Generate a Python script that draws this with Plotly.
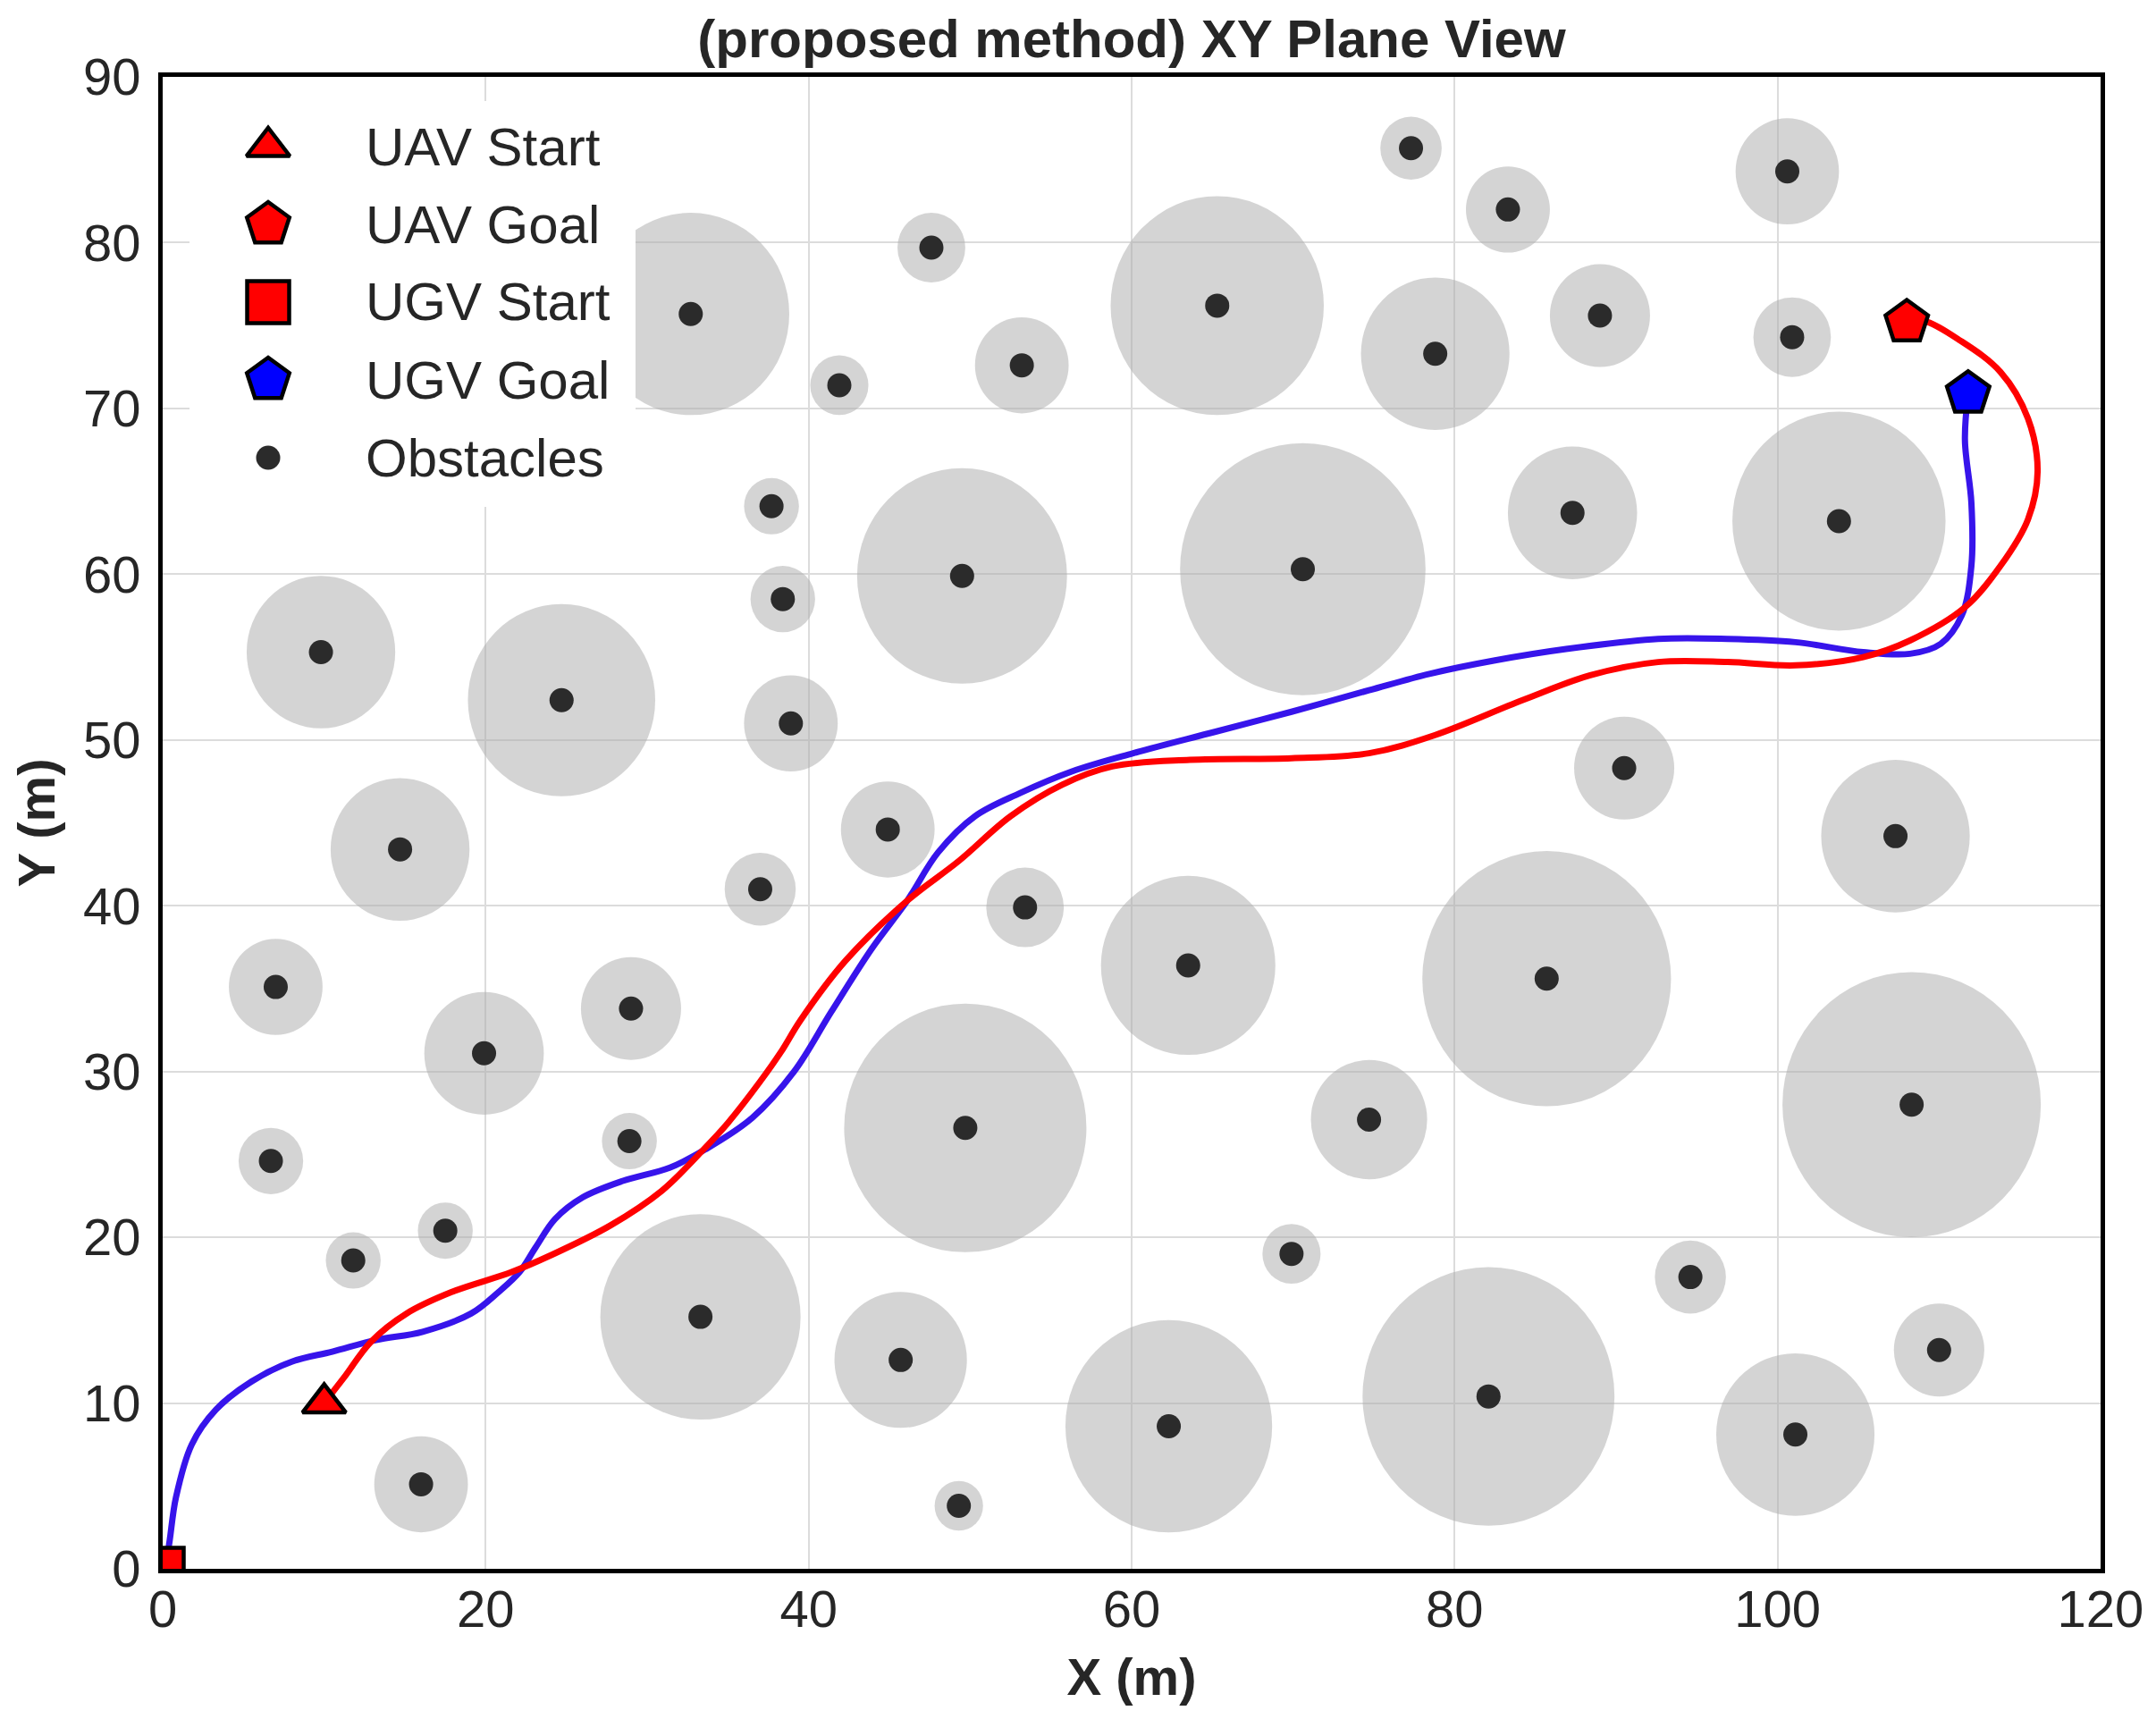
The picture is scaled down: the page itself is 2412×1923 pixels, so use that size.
import plotly.graph_objects as go

# ---------------- data ----------------
obs_x = [77.3, 100.6, 83.3, 47.6, 32.7, 65.3, 78.8, 89.0, 100.9, 53.2, 41.9, 37.7,
         49.5, 70.6, 87.3, 103.8, 38.4, 9.8, 24.7, 38.9, 90.5, 14.7, 44.9, 107.3,
         37.0, 53.4, 63.5, 85.7, 7.0, 29.0, 19.9, 74.7, 108.3, 49.7, 6.7, 28.9,
         17.5, 11.8, 69.9, 94.6, 33.3, 45.7, 110.0, 62.3, 82.1, 101.1, 16.0, 49.3]
obs_y = [85.7, 84.3, 82.0, 79.7, 75.7, 76.2, 73.3, 75.6, 74.3, 72.6, 71.4, 64.1,
         59.9, 60.3, 63.7, 63.2, 58.5, 55.3, 52.4, 51.0, 48.3, 43.4, 44.6, 44.2,
         41.0, 39.9, 36.4, 35.6, 35.1, 33.8, 31.1, 27.1, 28.0, 26.6, 24.6, 25.8,
         20.4, 18.6, 19.0, 17.6, 15.2, 12.6, 13.2, 8.6, 10.4, 8.1, 5.1, 3.8]
obs_r = [1.9, 3.2, 2.6, 2.1, 6.1, 6.6, 4.6, 3.1, 2.4, 2.9, 1.8, 1.7,
         6.5, 7.6, 4.0, 6.6, 2.0, 4.6, 5.8, 2.9, 3.1, 4.3, 2.9, 4.6,
         2.2, 2.4, 5.4, 7.7, 2.9, 3.1, 3.7, 3.6, 8.0, 7.5, 2.0, 1.7,
         1.7, 1.7, 1.8, 2.2, 6.2, 4.1, 2.8, 6.4, 7.8, 4.9, 2.9, 1.5]

ugv_path_x = [0.0, 0.33, 0.82, 1.8, 3.3, 5.5, 8.0, 10.5, 13.2, 16.1, 19.1, 20.8, 22.1,
              23.1, 24.3, 26.0, 28.5, 31.4, 33.6, 36.5, 39.1, 41.4, 43.9, 46.1, 48.0,
              50.3, 53.1, 56.3, 60.1, 65.2, 69.9, 74.7, 78.5, 82.5, 87.0, 92.6, 96.9,
              101.1, 105.3, 108.2, 110.1, 111.4, 112.0, 112.0, 111.6, 111.8]
ugv_path_y = [0.0, 1.1, 4.3, 7.5, 9.6, 11.3, 12.5, 13.1, 13.8, 14.3, 15.4, 16.7, 17.9,
              19.4, 21.1, 22.4, 23.4, 24.2, 25.3, 27.2, 30.0, 33.6, 37.4, 40.3, 43.2,
              45.4, 46.8, 48.1, 49.2, 50.5, 51.7, 53.0, 54.0, 54.8, 55.5, 56.1, 56.1,
              55.9, 55.3, 55.2, 55.8, 57.5, 60.5, 64.3, 68.1, 70.9]

uav_path_x = [10.0, 11.2, 12.9, 15.1, 17.9, 21.6, 24.0, 27.7, 30.9, 33.4, 35.0, 37.0,
              38.3, 39.5, 42.3, 46.1, 49.3, 52.5, 55.7, 58.8, 63.6, 69.9, 74.7, 78.8,
              84.2, 88.4, 92.6, 96.9, 101.1, 105.3, 108.2, 111.6, 113.8, 115.5, 116.1,
              115.5, 113.8, 111.3, 109.0, 108.0]
uav_path_y = [10.0, 11.5, 13.7, 15.4, 16.7, 17.9, 18.9, 20.7, 22.8, 25.2, 26.9, 29.4,
              31.2, 33.1, 36.7, 40.3, 42.7, 45.4, 47.3, 48.4, 48.8, 48.9, 49.2, 50.3,
              52.4, 53.9, 54.7, 54.7, 54.5, 55.0, 56.0, 58.0, 60.5, 63.3, 66.2,
              69.4, 72.2, 74.1, 75.3, 75.2]

uav_start = (10.0, 10.0)
uav_goal = (108.0, 75.2)
ugv_start = (0.0, 0.0)
ugv_goal = (111.8, 70.9)

x_ticks = [0, 20, 40, 60, 80, 100, 120]
y_ticks = [0, 10, 20, 30, 40, 50, 60, 70, 80, 90]

legend_labels = ["UAV Start", "UAV Goal", "UGV Start", "UGV Goal", "Obstacles"]

# ---------------- styles ----------------
FONT = "Liberation Sans, Arial, Helvetica, sans-serif"
TXT = "#262626"
RED = "#ff0000"
BLUE_LINE = "#3714eb"
BLUE_FILL = "#0000ff"
DOT = "#2b2b2b"
CIRCLE_FILL = "rgba(169,169,169,0.5)"
EDGE = dict(color="black", width=4.5)

legend_styles = [
    dict(symbol="triangle-up", size=42, color=RED, line=EDGE),
    dict(symbol="pentagon", size=50, color=RED, line=EDGE),
    dict(symbol="square", size=47, color=RED, line=EDGE),
    dict(symbol="pentagon", size=50, color=BLUE_FILL, line=EDGE),
    dict(symbol="circle", size=27, color=DOT, line=dict(width=0)),
]

# page body has an 8 px default margin; target plot box in page pixels
OFF = 8
W, H = 2412 - 2 * OFF, 1923 - 2 * OFF
PLOT_L, PLOT_R, PLOT_T, PLOT_B = 182, 2350, 86, 1755
L = PLOT_L - OFF
T = PLOT_T - OFF
R = OFF + W - PLOT_R
B = OFF + H - PLOT_B
PW, PH = PLOT_R - PLOT_L, PLOT_B - PLOT_T

def fx(px):
    return (px - PLOT_L) / PW

def fy(py):
    return (PLOT_B - py) / PH

fig = go.Figure()

# obstacle safety circles
for cx, cy, r in zip(obs_x, obs_y, obs_r):
    fig.add_shape(type="circle", xref="x", yref="y",
                  x0=cx - r, x1=cx + r, y0=cy - r, y1=cy + r,
                  fillcolor=CIRCLE_FILL, line=dict(width=0), layer="between")

# obstacle centers
fig.add_trace(go.Scatter(x=obs_x, y=obs_y, mode="markers",
                         marker=dict(size=27, color=DOT), hoverinfo="skip"))

# paths
fig.add_trace(go.Scatter(x=ugv_path_x, y=ugv_path_y, mode="lines",
                         line=dict(color=BLUE_LINE, width=7, shape="spline", smoothing=1.0),
                         hoverinfo="skip"))
fig.add_trace(go.Scatter(x=uav_path_x, y=uav_path_y, mode="lines",
                         line=dict(color=RED, width=7, shape="spline", smoothing=1.0),
                         hoverinfo="skip"))

# start / goal markers
points = [uav_start, uav_goal, ugv_start, ugv_goal]
for (px, py), st in zip(points, legend_styles[:4]):
    fig.add_trace(go.Scatter(x=[px], y=[py], mode="markers", marker=st,
                             cliponaxis=True, hoverinfo="skip"))

# ---------------- custom legend (overlay axes in [0,1]) ----------------
box_x0, box_x1 = fx(212), fx(711)
box_y0, box_y1 = fy(567), fy(113)
fig.add_trace(go.Scatter(x=[box_x0, box_x1, box_x1, box_x0, box_x0],
                         y=[box_y0, box_y0, box_y1, box_y1, box_y0],
                         mode="lines", fill="toself", fillcolor="white",
                         line=dict(width=0, color="white"),
                         xaxis="x2", yaxis="y2", hoverinfo="skip"))
row_y = [fy(164 + 87 * i) for i in range(len(legend_labels))]
for lab, st, yy in zip(legend_labels, legend_styles, row_y):
    fig.add_trace(go.Scatter(x=[fx(300)], y=[yy], mode="markers", marker=st,
                             xaxis="x2", yaxis="y2", hoverinfo="skip"))
    fig.add_annotation(text=lab, xref="paper", yref="paper", x=fx(407), y=yy,
                       xanchor="left", yanchor="middle", showarrow=False,
                       font=dict(family=FONT, size=60, color=TXT))

axis_common = dict(
    showgrid=True, gridcolor="#dcdcdc", gridwidth=2,
    showline=True, linecolor="black", linewidth=5, mirror=True,
    ticks="", zeroline=False, automargin=False,
    tickfont=dict(family=FONT, size=58, color=TXT),
)

fig.update_layout(
    width=W, height=H,
    margin=dict(l=L, r=R, t=T, b=B),
    paper_bgcolor="white", plot_bgcolor="white",
    showlegend=False,
    title=dict(text="(proposed method) XY Plane View",
               x=0.5, xref="paper", xanchor="center",
               y=1 - (43 - OFF) / H, yref="container", yanchor="middle",
               font=dict(family=FONT, size=60, color=TXT, weight="bold")),
    xaxis=dict(range=[0, 120], tickvals=x_ticks, ticklabelstandoff=-10,
               title=dict(text="X (m)", standoff=26,
                          font=dict(family=FONT, size=58, color=TXT, weight="bold")),
               **axis_common),
    yaxis=dict(range=[0, 90], tickvals=y_ticks, ticklabelstandoff=8,
               title=dict(text="Y (m)", standoff=18,
                          font=dict(family=FONT, size=58, color=TXT, weight="bold")),
               **axis_common),
    xaxis2=dict(range=[0, 1], overlaying="x", anchor="y2", visible=False, fixedrange=True),
    yaxis2=dict(range=[0, 1], overlaying="y", anchor="x2", visible=False, fixedrange=True),
)

fig.write_html("out.html")
